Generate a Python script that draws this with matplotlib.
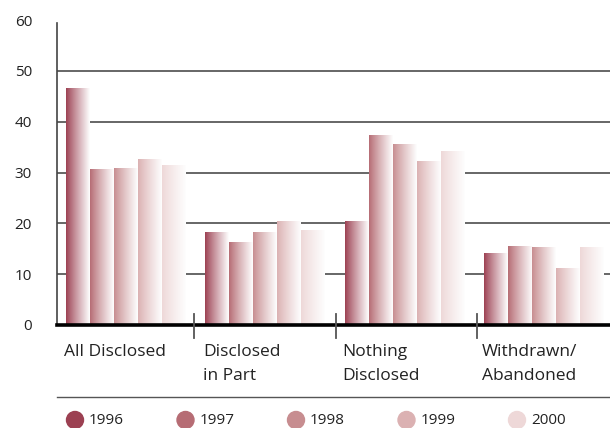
import numpy as np
import matplotlib
matplotlib.use("Agg")
import matplotlib.pyplot as plt
from matplotlib.colors import to_rgb

categories = ["All Disclosed", "Disclosed\nin Part", "Nothing\nDisclosed", "Withdrawn/\nAbandoned"]
years = ["1996", "1997", "1998", "1999", "2000"]
values = {
    "1996": [46.6, 18.1, 20.3, 14.0],
    "1997": [30.5, 16.3, 37.2, 15.4],
    "1998": [30.7, 18.1, 35.6, 15.2],
    "1999": [32.5, 20.3, 32.1, 11.2],
    "2000": [31.3, 18.5, 34.1, 15.2],
}
colors = ["#9c4052", "#b66c74", "#c78d90", "#dbb1b2", "#eed8d8"]
yticks = [0, 10, 20, 30, 40, 50, 60]

plt.rcParams['font.family'] = ['Open Sans', 'DejaVu Sans']

W, H = 610, 428
fig = plt.figure(figsize=(W / 100, H / 100), dpi=100)
# axes in pixel coords: left 57, right 610, bottom y=325, top y=20
ax = fig.add_axes([57 / W, (H - 325) / H, (610 - 57) / W, (325 - 20) / H])

group_start0 = (66 - 57) / 24
group_step = 139.3 / 24
bar_w = 1.0

# gridlines
for t in yticks[1:-1]:
    ax.axhline(t, color="#5a5a5a", lw=1.3, zorder=1)

white = np.array([1.0, 1.0, 1.0])
for j, y in enumerate(years):
    c = np.array(to_rgb(colors[j]))
    grad = np.linspace(0, 1, 64) ** 0.9
    row = c[None, :] * (1 - grad[:, None]) + (white * 0.995)[None, :] * grad[:, None]
    img = row[None, :, :]
    for i, v in enumerate(values[y]):
        x0 = group_start0 + i * group_step + j * bar_w
        ax.imshow(img, extent=(x0, x0 + bar_w, 0, v), aspect='auto',
                  interpolation='bilinear', zorder=2)
ax.set_xlim(0, (610 - 57) / 24)
ax.set_ylim(0, 60)

for s in ["top", "right"]:
    ax.spines[s].set_visible(False)
ax.spines["left"].set_color("#444444")
ax.spines["left"].set_linewidth(1.2)
ax.spines["left"].set_bounds(0, 59.4)
ax.spines["bottom"].set_color("black")
ax.spines["bottom"].set_linewidth(2.6)
ax.spines["bottom"].set_zorder(5)

ax.set_yticks(yticks)
ax.set_yticklabels([str(t) for t in yticks], fontsize=11, color="#222222")
ax.tick_params(axis='y', length=0, pad=18)
ax.set_xticks([])

# separators between groups
sep0 = (194 - 57) / 24
sep_step = 141.5 / 24
for i in range(3):
    xs = sep0 + i * sep_step
    ax.plot([xs, xs], [2.2, -2.6], color="#555555", lw=1.3, clip_on=False, zorder=6)

# category labels
for i, cat in enumerate(categories):
    x0 = group_start0 + i * group_step - 0.08
    ax.text(x0, -3.8, cat, ha='left', va='top', fontsize=12.5, color="#222222",
            linespacing=1.62)

# separator line above legend
fig.add_artist(plt.Line2D([57 / W, 1.0], [(H - 397) / H] * 2, color="#555555", lw=1.0))

# legend
for j, y in enumerate(years):
    cx = 75 + j * 110.5
    fig.add_artist(matplotlib.patches.Ellipse(((cx) / W, (H - 420) / H), 17 / W, 17 / H,
                                              color=colors[j], transform=fig.transFigure))
    fig.text((cx + 14) / W, (H - 420) / H, y, ha='left', va='center', fontsize=11,
             color="#222222")

fig.savefig("out.png", dpi=100)
